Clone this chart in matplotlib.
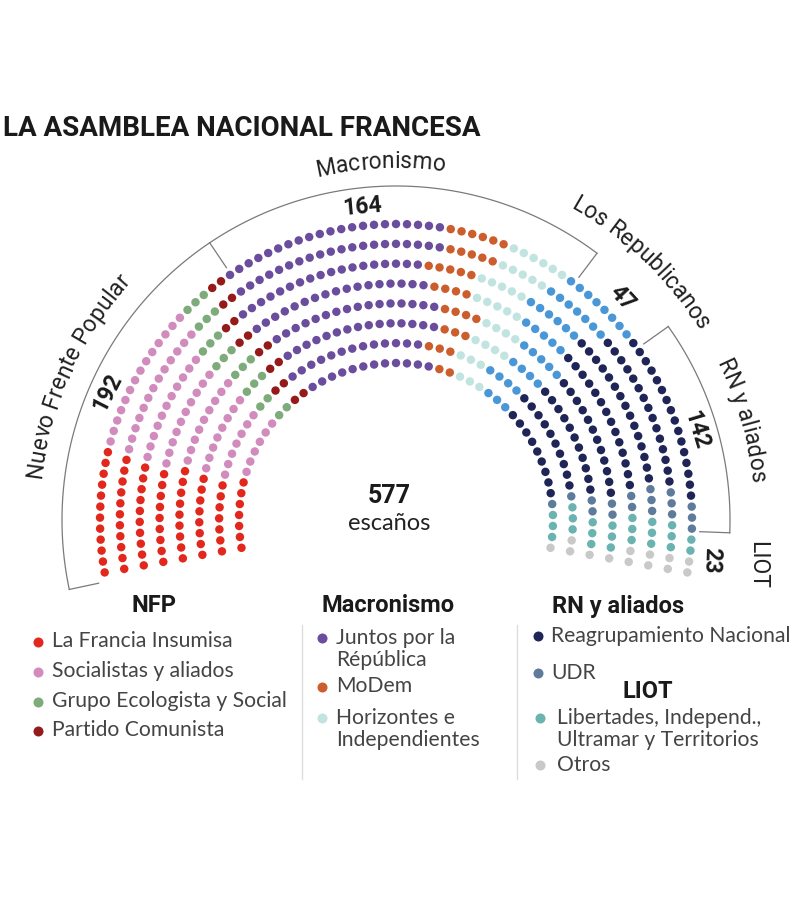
import numpy as np
import matplotlib
matplotlib.use("Agg")
import matplotlib.pyplot as plt

# ---- data -------------------------------------------------------------
PARTIES = ["La Francia Insumisa", "Socialistas y aliados", "Grupo Ecologista y Social",
           "Partido Comunista", "Juntos por la República", "MoDem",
           "Horizontes e Independientes", "Los Republicanos", "Reagrupamiento Nacional",
           "UDR", "LIOT", "Otros"]
COLORS = ["#e2271d", "#d18bbd", "#7dab7a", "#951b1b", "#6a4d9d", "#cc5d2c",
          "#c2e4e0", "#4a97d8", "#1f2556", "#5f7b9c", "#6bb3b0", "#c9c9c9"]

# seats per row (inner row first), one count per party
ROW_COUNTS = [
    [7, 6, 2, 2, 12, 2, 3, 3, 9, 1, 3, 1],
    [7, 7, 2, 2, 13, 3, 3, 4, 10, 1, 3, 2],
    [8, 8, 3, 2, 15, 3, 4, 4, 11, 2, 3, 1],
    [9, 9, 3, 2, 16, 4, 4, 5, 12, 2, 3, 1],
    [9, 10, 3, 2, 17, 4, 5, 5, 14, 2, 3, 2],
    [10, 11, 3, 2, 18, 5, 5, 6, 15, 3, 3, 2],
    [11, 13, 3, 2, 20, 5, 5, 7, 15, 3, 3, 2],
    [12, 14, 3, 2, 21, 6, 6, 8, 16, 3, 2, 2],
]

BLOCKS = ["Nuevo Frente Popular", "Macronismo", "Los Republicanos", "RN y aliados", "LIOT"]
BLOCK_SEATS = [192, 164, 47, 142, 23]
TOTAL = 577

# ---- geometry (pixel space) -------------------------------------------
CX, CY = 396, 520
R_IN, R_OUT = 157, 296
A0, A1 = 190.2, -10.2

fig = plt.figure(figsize=(8, 9), dpi=100)
ax = fig.add_axes([0, 0, 1, 1])
ax.set_xlim(0, 800)
ax.set_ylim(900, 0)
ax.axis("off")
renderer = fig.canvas.get_renderer()

radii = np.linspace(R_IN, R_OUT, len(ROW_COUNTS))
for r, counts in zip(radii, ROW_COUNTS):
    n = sum(counts)
    ang = np.radians(np.linspace(A0, A1, n))
    cols = [c for c, k in zip(COLORS, counts) for _ in range(k)]
    ax.scatter(CX + r * np.cos(ang), CY - r * np.sin(ang), s=37, c=cols, linewidths=0)


def pol(r, a):
    t = np.radians(a)
    return CX + r * np.cos(t), CY - r * np.sin(t)


def text_w(s, **kw):
    t = ax.text(0, 0, s, **kw)
    w = t.get_window_extent(renderer).width
    t.remove()
    return w


def arc_text(s, r, theta_c, **kw):
    # characters laid along an arc, read clockwise
    total = text_w(s, **kw)
    start = theta_c + np.degrees(total / 2 / r)
    for i, ch in enumerate(s):
        if ch == " ":
            continue
        c = text_w(s[:i + 1], **kw) - text_w(ch, **kw) / 2
        th = start - np.degrees(c / r)
        x, y = pol(r, th)
        ax.text(x, y, ch, rotation=th - 90, rotation_mode="anchor",
                ha="center", va="baseline", **kw)


# brackets
RB, RT = 334, 304
LINE = dict(color="#7a7a7a", lw=0.9)
for a_start, a_end in [(192, 123.9), (123.9, 53), (35.4, -2.2)]:
    t = np.linspace(a_start, a_end, 100)
    x, y = pol(RB, t)
    ax.plot(x, y, **LINE)
for a in [192, 123.9, 53, 35.4, -2.2]:
    x, y = pol(np.array([RB, RT]), a)
    ax.plot(x, y, **LINE)

TF = "Roboto"
ax.text(3, 128, "LA ASAMBLEA NACIONAL FRANCESA", fontsize=20, fontweight="bold",
        family=TF, color="#1a1a1a", va="center", ha="left")

# block names along the arc
lab = dict(family=TF, fontsize=16.5, color="#222222")
arc_text(BLOCKS[0], 357, 155.7, **lab)
arc_text(BLOCKS[1], 352, 92.5, **lab)
arc_text(BLOCKS[2], 357, 46.4, **lab)
arc_text(BLOCKS[3], 357, 16.0, **lab)
ax.text(758, 565, BLOCKS[4], rotation=-90, ha="center", va="center", **lab)

num = dict(family=TF, fontsize=16.5, fontweight="bold", color="#1a1a1a", ha="center", va="center")
ax.text(107, 393, str(BLOCK_SEATS[0]), rotation=63, **num)
ax.text(362, 207, str(BLOCK_SEATS[1]), rotation=5, **num)
ax.text(622, 298, str(BLOCK_SEATS[2]), rotation=-47, **num)
ax.text(696, 430, str(BLOCK_SEATS[3]), rotation=-73, **num)
ax.text(711, 560, str(BLOCK_SEATS[4]), rotation=-92, **num)

ax.text(389, 496, str(TOTAL), family=TF, fontsize=18, fontweight="bold", color="#1a1a1a",
        ha="center", va="center")
ax.text(389, 523, "escaños", family="Lato", fontsize=17, color="#222222",
        ha="center", va="center")

# ---- legend -------------------------------------------------------------
hdr = dict(family=TF, fontsize=17, fontweight="bold", color="#1a1a1a", ha="center", va="center")
ax.text(154, 606, "NFP", **hdr)
ax.text(388, 606, "Macronismo", **hdr)
ax.text(618, 606, "RN y aliados", **hdr)
ax.text(648, 692, "LIOT", **hdr)

items = [
    (38, 642, 52, 641, 0, PARTIES[0]),
    (38, 672, 52, 671, 1, PARTIES[1]),
    (38, 702, 52, 701, 2, PARTIES[2]),
    (38, 731, 52, 730, 3, PARTIES[3]),
    (322, 638, 336, 649, 4, "Juntos por la\nRépública"),
    (322, 687, 336, 686, 5, PARTIES[5]),
    (322, 718, 336, 729, 6, "Horizontes e\nIndependientes"),
    (538, 636, 551, 636, 8, PARTIES[8]),
    (538, 673, 551, 673, 9, PARTIES[9]),
    (540, 718, 557, 729, 10, "Libertades, Independ.,\nUltramar y Territorios"),
    (540, 765, 557, 765, 11, PARTIES[11]),
]
for dx, dy, tx, ty, k, txt in items:
    ax.scatter([dx], [dy], s=52, color=COLORS[k], linewidths=0)
    ax.text(tx, ty, txt, family="Lato", fontsize=15.2, color="#444444",
            ha="left", va="center", linespacing=1.08)

for x in [302, 517]:
    ax.plot([x, x], [625, 779], color="#dddddd", lw=1)

fig.savefig("out.png", dpi=100, facecolor="white")
